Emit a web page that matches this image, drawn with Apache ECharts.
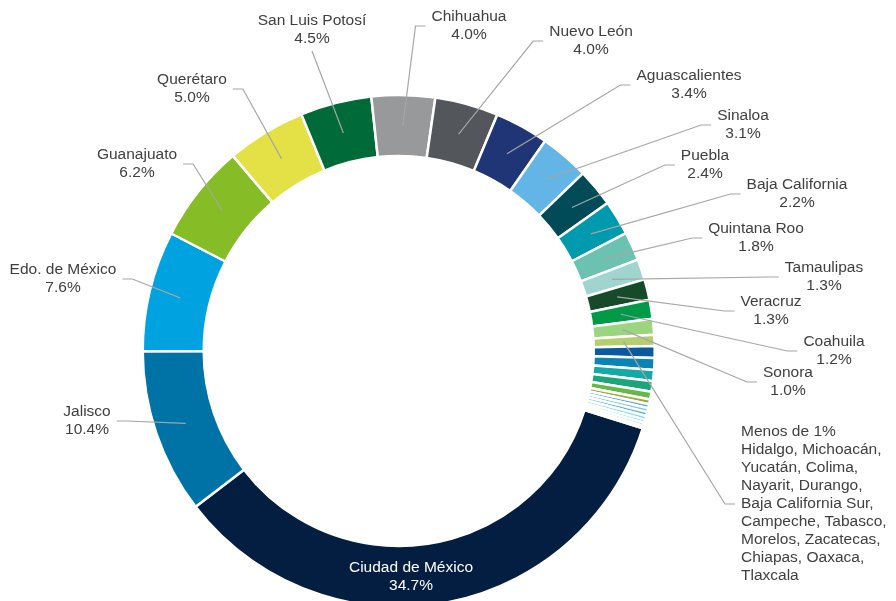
<!DOCTYPE html>
<html>
<head>
<meta charset="utf-8">
<title>Participación por entidad</title>
<script src="https://cdn.jsdelivr.net/npm/echarts@6/dist/echarts.min.js"></script>
<style>
  html, body { margin: 0; padding: 0; background: #fff; }
  #main { width: 896px; height: 601px; }
</style>
</head>
<body>
<div id="main"></div>
<script>
// datos
const states = ['Ciudad de México', 'Jalisco', 'Edo. de México', 'Guanajuato', 'Querétaro',
  'San Luis Potosí', 'Chihuahua', 'Nuevo León', 'Aguascalientes', 'Sinaloa', 'Puebla',
  'Baja California', 'Quintana Roo', 'Tamaulipas', 'Veracruz', 'Coahuila', 'Sonora'];
const shares = [34.7, 10.4, 7.6, 6.2, 5.0, 4.5, 4.0, 4.0, 3.4, 3.1, 2.4, 2.2, 1.8, 1.3, 1.3, 1.2, 1.0];

// entidades con menos de 1%
const smallStates = ['Hidalgo', 'Michoacán', 'Yucatán', 'Colima', 'Nayarit', 'Durango',
  'Baja California Sur', 'Campeche', 'Tabasco', 'Morelos', 'Zacatecas', 'Chiapas', 'Oaxaca', 'Tlaxcala'];
const smallShares = [0.7, 0.75, 0.75, 0.7, 0.65, 0.5, 0.3, 0.25, 0.25, 0.25, 0.25, 0.2, 0.2, 0.15];
const smallLabelLines = ['Menos de 1%', 'Hidalgo, Michoacán,', 'Yucatán, Colima,', 'Nayarit, Durango,',
  'Baja California Sur,', 'Campeche, Tabasco,', 'Morelos, Zacatecas,', 'Chiapas, Oaxaca,', 'Tlaxcala'];

// colores
const mainColors = ['#041e42', '#0073a6', '#00a2df', '#86bc25', '#e3e145', '#006a38', '#97999b',
  '#53565a', '#1f3575', '#62b5e5', '#004b57', '#009aae', '#6cc2b0', '#a0d5cf', '#164b2a', '#009a48', '#9cd57f'];
const smallColors = ['#b3cf6e', '#0b5aa0', '#0a83b5', '#12a9a6', '#1aa57a', '#63b946', '#9aa83a',
  '#5aa8e6', '#7cc0f0', '#4fb0d8', '#8ad8f0', '#60e0d0', '#a0f0e0', '#b0e8f8'];

// posición de etiquetas (x, y centro; lado del gancho)
const labelPos = [
  { x: 411, y: 577 },
  { x: 87, y: 421, side: 'right' },
  { x: 63, y: 279, side: 'right' },
  { x: 137, y: 164, side: 'right' },
  { x: 192, y: 89, side: 'right' },
  { x: 312, y: 30, side: 'bottom' },
  { x: 469, y: 26, side: 'left' },
  { x: 591, y: 41, side: 'left' },
  { x: 689, y: 85, side: 'left' },
  { x: 743, y: 125, side: 'left' },
  { x: 705, y: 165, side: 'left' },
  { x: 797, y: 194, side: 'left' },
  { x: 756, y: 238, side: 'left' },
  { x: 824, y: 277, side: 'left' },
  { x: 771, y: 311, side: 'left' },
  { x: 834, y: 351, side: 'left' },
  { x: 788, y: 382, side: 'left' },
  { x: 741, y: 504, side: 'left', align: 'left' }
];

const FONT = "'Liberation Sans', Arial, sans-serif";
const CENTER = ['44.5%', '58.4%'];
const GAP = 6, HOOK = 10;

const ringData = states.map((n, i) => ({ name: n, value: shares[i], itemStyle: { color: mainColors[i] } }))
  .concat(smallStates.map((n, i) => ({ name: n, value: smallShares[i], itemStyle: { color: smallColors[i] } })));

const labelData = states.map((n, i) => ({
  name: n,
  value: shares[i],
  label: { formatter: n + '\n' + shares[i].toFixed(1) + '%' }
})).concat(smallStates.map((n, i) => ({
  name: n,
  value: smallShares[i],
  label: i === 0 ? { formatter: smallLabelLines.join('\n'), align: 'left' } : { show: false },
  labelLine: { show: i === 0 }
})));
// Ciudad de México: etiqueta blanca dentro del anillo
labelData[0].label.color = '#ffffff';
labelData[0].labelLine = { show: false };

const chart = echarts.init(document.getElementById('main'));
chart.setOption({
  animation: false,
  backgroundColor: '#ffffff',
  series: [{
    type: 'pie',
    silent: true,
    z: 2,
    center: CENTER,
    radius: [195, 256],
    startAngle: -17.6,
    itemStyle: { borderColor: '#ffffff', borderWidth: 2.5 },
    label: { show: false },
    labelLine: { show: false },
    data: ringData
  }, {
    // capa transparente encima: las líneas guía salen del centro del anillo
    type: 'pie',
    silent: true,
    z: 5,
    center: CENTER,
    radius: [0, 225],
    startAngle: -17.6,
    avoidLabelOverlap: false,
    itemStyle: { color: 'rgba(0,0,0,0)' },
    label: {
      show: true,
      position: 'outside',
      color: '#404040',
      fontFamily: FONT,
      fontSize: 15.5,
      lineHeight: 18,
      align: 'center'
    },
    labelLine: {
      show: true,
      length: 10,
      length2: 8,
      lineStyle: { color: '#a6a6a6', width: 1.2 }
    },
    labelLayout: function (p) {
      const pos = labelPos[p.dataIndex];
      if (!pos) return {};
      const w = p.labelRect.width, h = p.labelRect.height;
      const left = pos.align === 'left' ? pos.x : pos.x - w / 2;
      const right = left + w;
      const out = { x: pos.x, y: pos.y, align: pos.align || 'center', verticalAlign: 'middle' };
      const pts = p.labelLinePoints;
      if (pts && pos.side) {
        let hook;
        if (pos.side === 'left') hook = [[left - GAP - HOOK, pos.y], [left - GAP, pos.y]];
        else if (pos.side === 'right') hook = [[right + GAP + HOOK, pos.y], [right + GAP, pos.y]];
        else hook = [[pos.x, pos.y + h / 2 + 3], [pos.x, pos.y + h / 2 + 3]];
        out.labelLinePoints = [pts[0], hook[0], hook[1]];
      }
      return out;
    },
    data: labelData
  }]
});
</script>
</body>
</html>
